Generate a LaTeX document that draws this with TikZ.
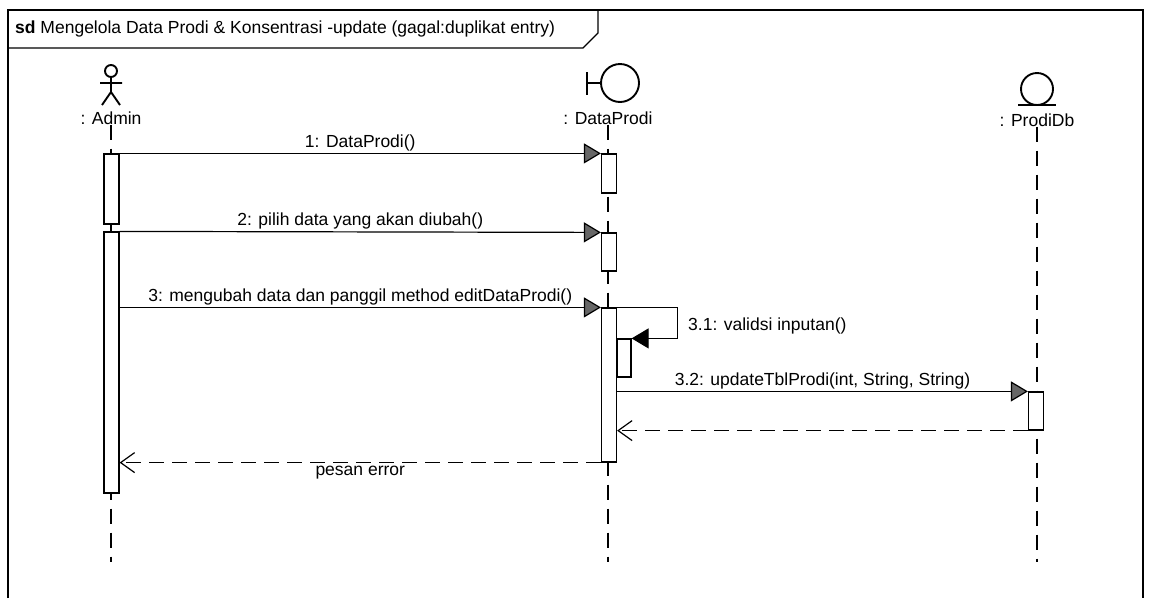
\documentclass[tikz,border=0pt]{standalone}
\usepackage{fontspec}
\setmainfont{Liberation Sans}
\usetikzlibrary{arrows.meta,positioning}

\begin{document}
\begin{tikzpicture}[x=1pt,y=1pt]
                    \tikzstyle{every node}+=[inner sep=0pt, font=\fontsize{17.5}{21}\selectfont]
                    \tikzstyle{act}=[draw=black, fill=white, line width=1.2pt, minimum width=15pt]
                    \tikzstyle{msg}=[black, line width=1.2pt, -{Triangle[length=17pt,width=20pt,fill=black!60]}]
                    \tikzstyle{selfmsg}=[black, line width=1.2pt, -{Triangle[length=17pt,width=20pt,fill=black]}]
                    \tikzstyle{ret}=[black, line width=1.2pt, dash pattern=on 15pt off 8pt, -{Straight Barb[length=14pt,width=20pt]}]
                    \tikzstyle{lifeline}=[black, line width=1.2pt, dash pattern=on 15pt off 9pt]
                    \tikzstyle{icon}=[black, line width=1.9pt]
                    \useasboundingbox (0,0) rectangle (1152,-598);
                    \draw [black, line width=1.4pt] (8,-598) -- (8,-10) -- (1143,-10) -- (1143,-598);
                    \draw [black, line width=1.1pt] (8,-48) -- (583,-48) -- (598,-33) -- (598,-10);
                    \node [anchor=west] (title) at (15,-29) {\textbf{sd} Mengelola Data Prodi \& Konsentrasi -update (gagal:duplikat entry)};
                    \draw [icon] (111,-71) circle (6);
                    \draw [icon] (111,-77) -- (111,-92) (100,-83) -- (122,-83) (102,-105) -- (111,-92) -- (120,-105);
                    \node (admin) at (111,-118) {: Admin};
                    \draw [icon] (620,-83) circle (19);
                    \draw [icon] (601,-83) -- (587,-83) (587,-72) -- (587,-95);
                    \node (dataprodi) at (608,-118) {: DataProdi};
                    \draw [icon] (1037,-89) circle (16);
                    \draw [icon] (1018,-105) -- (1056,-105);
                    \node (prodidb) at (1037,-120) {: ProdiDb};
                    \draw [lifeline] (admin.south) -- ++(0,-437);
                    \draw [lifeline] (dataprodi.south) -- ++(0,-437);
                    \draw [lifeline] (prodidb.south) -- ++(0,-435);
                    \node [act, minimum height=70pt] (aA1) at (111.5,-189) {};
                    \node [act, minimum height=261pt] (aA2) at (111.5,-362.5) {};
                    \node [act, minimum height=39pt] (aD1) at (609,-173.5) {};
                    \node [act, minimum height=38pt] (aD2) at (609,-252) {};
                    \node [act, minimum height=154pt] (aD3) at (609,-385) {};
                    \node [act, minimum width=14pt, minimum height=38pt] (aN) at (624,-358) {};
                    \node [act, minimum height=38pt] (aP) at (1036,-411) {};
                    \draw [msg] (aA1.north east) -- (aD1.north west) node [midway, above=2pt] (m1) {1: DataProdi()};
                    \draw [msg] (aA2.north east) -- (aD2.north west) node [midway, above=2pt] (m2) {2: pilih data yang akan diubah()};
                    \draw [msg] (aA2.east |- aD3.north west) -- (aD3.north west) node [midway, above=2pt] (m3) {3: mengubah data dan panggil method editDataProdi()};
                    \draw [selfmsg] (aD3.north east) -- ++(60,0) |- (aN.north east);
                    \node [anchor=west] (m31) at (688,-326) {3.1: validsi inputan()};
                    \draw [msg] (aD3.east |- aP.north) -- (aP.north west) node [midway, above=2pt] (m32) {3.2: updateTblProdi(int, String, String)};
                    \draw [ret] (aP.south west) -- (aD3.east |- aP.south);
                    \draw [ret] (aD3.south west) -- (aA2.east |- aD3.south) node [midway, below=3pt] (r1) {pesan error};
                \end{tikzpicture}
\end{document}
